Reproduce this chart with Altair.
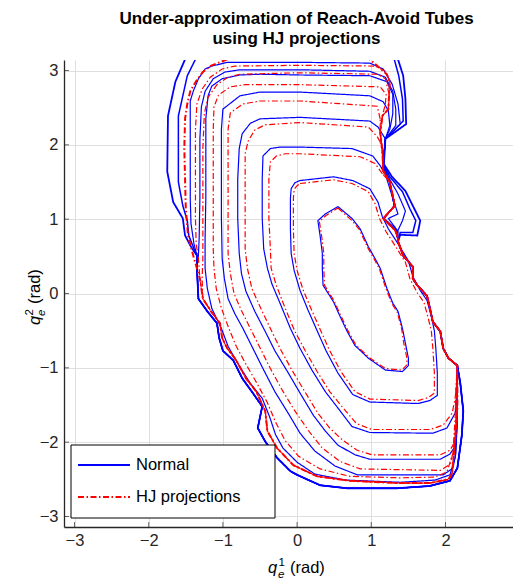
import altair as alt
import pandas as pd

# ---------------- values (q1, q2 in rad) ----------------
TICKS = [-3, -2, -1, 0, 1, 2, 3]
KINDS = ["Normal", "HJ projections"]
COLORS = ["#0000ff", "#ff0000"]
DASHES = [[1, 0], [6, 2.5, 1.5, 2.5]]

# shared outer boundary pieces
LEFT_LOWER_NORMAL = [(-1.35, 0.51), (-1.35, 0.34), (-1.33, -0.07), (-1.21, -0.24), (-1.08, -0.40), (-1.05, -0.60),
                     (-1.00, -0.77), (-0.86, -0.90), (-0.74, -1.14), (-0.61, -1.32), (-0.47, -1.52), (-0.53, -1.81),
                     (-0.43, -1.99), (-0.27, -2.21), (-0.09, -2.39), (0.00, -2.44), (0.31, -2.58), (0.67, -2.62),
                     (1.35, -2.62), (1.79, -2.59), (2.06, -2.52), (2.16, -2.35), (2.22, -1.91), (2.24, -1.58),
                     (2.20, -1.21), (2.16, -0.97)]
LEFT_LOWER_HJ = [(-1.40, 0.51), (-1.31, 0.20), (-1.27, -0.07), (-1.16, -0.24), (-1.04, -0.40), (-1.01, -0.60),
                 (-0.94, -0.74), (-0.82, -0.90), (-0.69, -1.14), (-0.55, -1.32), (-0.43, -1.58), (-0.40, -1.85),
                 (-0.27, -2.08), (-0.05, -2.31), (0.27, -2.46), (0.71, -2.52), (1.35, -2.55), (1.79, -2.55),
                 (2.04, -2.50), (2.09, -2.42), (2.13, -1.95), (2.16, -1.54), (2.16, -0.97)]
RIGHT_BOUNDARY = [(2.16, -0.97), (2.04, -0.87), (1.97, -0.74), (1.93, -0.51), (1.83, -0.38), (1.77, -0.11),
                  (1.75, -0.03), (1.62, 0.11), (1.56, 0.20), (1.56, 0.36), (1.43, 0.51), (1.36, 0.70)]
RIGHT_UPPER_HJ = [(1.36, 0.70), (1.35, 0.78), (1.32, 0.85), (1.16, 1.01), (1.32, 1.18), (1.25, 1.50), (1.16, 1.65),
                  (1.15, 1.91), (1.12, 2.17), (1.15, 2.39), (1.23, 2.48), (1.25, 2.85), (1.21, 2.95), (0.98, 3.15)]
FAN_A = [(1.36, 0.70), (1.39, 0.79), (1.62, 0.78), (1.66, 0.98), (1.58, 1.14), (1.46, 1.38), (1.28, 1.57),
         (1.17, 1.74), (1.19, 2.08)]
FAN_B = [(1.36, 0.70), (1.39, 0.82), (1.56, 0.82), (1.60, 0.98), (1.52, 1.14), (1.42, 1.37), (1.25, 1.57),
         (1.16, 1.74), (1.19, 2.08)]
FAN_C = [(1.36, 0.70), (1.36, 0.85), (1.42, 0.98), (1.46, 1.11), (1.36, 1.34), (1.23, 1.57), (1.16, 1.74),
         (1.19, 2.08)]
FAN_D = [(1.36, 0.70), (1.35, 0.85), (1.23, 1.01), (1.36, 1.07), (1.29, 1.28), (1.21, 1.54), (1.16, 1.74),
         (1.19, 2.08)]
FAN_E = [(1.36, 0.70), (1.34, 0.85), (1.17, 1.01), (1.31, 1.18), (1.25, 1.50), (1.16, 1.70), (1.19, 2.08)]
FAN_E3 = [(1.36, 0.70), (1.34, 0.85), (1.17, 1.01), (1.31, 1.18), (1.25, 1.50), (1.16, 1.65)]

# Normal (blue) level pieces, outer to inner
N10_LEFT = [(-1.51, 3.15), (-1.64, 2.85), (-1.74, 2.39), (-1.75, 1.64), (-1.67, 1.23), (-1.54, 1.01),
            (-1.51, 0.78), (-1.43, 0.63)]
N10_RIGHT = [(1.47, 2.28), (1.46, 2.62), (1.43, 2.93), (1.36, 3.15)]
N9_LEFT = [(-1.37, 3.15), (-1.48, 2.93), (-1.60, 2.39), (-1.60, 1.50), (-1.54, 1.18), (-1.48, 0.98),
           (-1.46, 0.78), (-1.40, 0.63)]
N9_RIGHT = [(1.43, 2.32), (1.42, 2.62), (1.37, 2.93), (1.31, 3.15)]
N8_TOP = [(0.98, 3.10), (0.04, 3.11), (-0.77, 3.11), (-0.94, 3.11), (-1.15, 3.06), (-1.24, 3.02), (-1.33, 2.89),
          (-1.40, 2.72), (-1.44, 2.59), (-1.44, 2.08), (-1.44, 1.68), (-1.44, 1.28), (-1.43, 0.94), (-1.39, 0.67)]
N8_RIGHT = [(1.39, 2.28), (1.36, 2.55), (1.28, 2.82), (1.16, 3.02), (0.98, 3.10)]
N7_TOP = [(0.98, 2.99), (0.04, 3.01), (-0.77, 3.01), (-0.97, 2.98), (-1.13, 2.89), (-1.24, 2.72), (-1.29, 2.51),
          (-1.31, 2.08), (-1.31, 1.28), (-1.32, 0.74), (-1.33, 0.51)]
N7_RIGHT = [(1.33, 2.26), (1.33, 2.48), (1.29, 2.72), (1.19, 2.91), (0.98, 2.99)]
N6_OWN = [(0.98, 2.93), (0.04, 2.94), (-0.50, 2.95), (-0.77, 2.94), (-1.01, 2.89), (-1.15, 2.79), (-1.20, 2.66),
          (-1.23, 2.35), (-1.23, 1.81), (-1.23, 1.28), (-1.24, 0.74), (-1.24, 0.34), (-1.21, 0.07), (-1.15, -0.20),
          (-1.02, -0.47), (-0.93, -0.71), (-0.80, -0.94), (-0.63, -1.21), (-0.47, -1.41), (-0.37, -1.66),
          (-0.29, -1.90), (-0.19, -2.08), (0.00, -2.27), (0.24, -2.43), (0.65, -2.51), (1.39, -2.54),
          (1.86, -2.51), (2.06, -2.44), (2.13, -2.21), (2.16, -1.68)]
N6_RIGHT = [(1.25, 2.21), (1.29, 2.42), (1.29, 2.68), (1.21, 2.85), (0.98, 2.93)]
N5_OWN = [(0.98, 2.66), (0.04, 2.71), (-0.50, 2.71), (-0.77, 2.66), (-1.00, 2.48), (-1.02, 2.21), (-1.02, 1.81),
          (-1.02, 1.01), (-1.01, 0.47), (-0.98, 0.20), (-0.93, -0.07), (-0.84, -0.27), (-0.73, -0.47),
          (-0.61, -0.71), (-0.46, -1.01), (-0.30, -1.32), (-0.12, -1.61), (0.04, -1.88), (0.24, -2.12),
          (0.51, -2.32), (0.81, -2.44), (1.97, -2.44), (2.10, -2.35), (2.14, -2.15), (2.16, -1.68)]
N5_RIGHT = [(1.25, 2.26), (1.23, 2.46), (1.16, 2.58), (0.98, 2.66)]
N4_OWN = [(0.98, 2.32), (0.04, 2.37), (-0.50, 2.35), (-0.63, 2.29), (-0.74, 2.15), (-0.78, 1.95), (-0.80, 1.54),
          (-0.80, 1.01), (-0.78, 0.54), (-0.75, 0.27), (-0.69, 0.03), (-0.57, -0.24), (-0.43, -0.51),
          (-0.30, -0.77), (-0.13, -1.05), (0.04, -1.34), (0.22, -1.64), (0.38, -1.85), (0.55, -2.04),
          (0.78, -2.17), (0.98, -2.23), (1.93, -2.23), (2.06, -2.16), (2.14, -2.04), (2.16, -1.68)]
N4_RIGHT = [(1.09, 2.24), (0.98, 2.32)]
N3_OWN = [(1.16, 1.65), (1.12, 1.72), (1.02, 1.85), (0.74, 1.95), (0.04, 1.97), (-0.23, 1.97), (-0.36, 1.95),
          (-0.46, 1.85), (-0.47, 1.54), (-0.47, 1.01), (-0.45, 0.60), (-0.40, 0.34), (-0.34, 0.13), (-0.23, -0.13),
          (-0.09, -0.47), (0.04, -0.74), (0.20, -1.03), (0.38, -1.32), (0.55, -1.54), (0.74, -1.79), (0.98, -1.87),
          (1.83, -1.88), (2.02, -1.81), (2.13, -1.61), (2.16, -1.34)]
N2 = [(0.04, 1.52), (0.49, 1.57), (0.75, 1.52), (0.98, 1.41), (1.09, 1.23), (1.15, 1.03), (1.23, 0.87),
      (1.36, 0.67), (1.50, 0.44), (1.56, 0.23), (1.66, 0.04), (1.75, -0.09), (1.81, -0.31), (1.85, -0.50),
      (1.87, -0.74), (1.89, -1.07), (1.89, -1.37), (1.79, -1.44), (1.63, -1.48), (0.98, -1.46), (0.75, -1.36),
      (0.55, -1.07), (0.39, -0.77), (0.27, -0.50), (0.15, -0.23), (0.04, 0.04), (-0.04, 0.31), (-0.08, 0.54),
      (-0.09, 0.87), (-0.09, 1.28), (-0.08, 1.41), (-0.03, 1.49)]
N1 = [(0.55, 1.17), (0.74, 1.01), (0.85, 0.87), (0.96, 0.63), (1.05, 0.47), (1.12, 0.34), (1.21, 0.07),
      (1.29, -0.13), (1.36, -0.24), (1.42, -0.47), (1.46, -0.67), (1.50, -0.87), (1.50, -0.97), (1.42, -1.05),
      (1.19, -1.03), (0.96, -0.87), (0.78, -0.70), (0.67, -0.50), (0.58, -0.31), (0.49, -0.11), (0.35, 0.11),
      (0.34, 0.34), (0.34, 0.54), (0.31, 0.78), (0.28, 0.98), (0.38, 1.07)]

# HJ projection (red) level pieces, outer to inner
H_OUT_LEFT = [(-0.94, 3.15), (-1.15, 3.07), (-1.27, 2.98), (-1.36, 2.86), (-1.44, 2.72), (-1.48, 2.55),
              (-1.51, 2.35), (-1.52, 1.95), (-1.51, 1.54), (-1.50, 1.14), (-1.47, 0.78)]
H8_TOP = [(1.19, 2.99), (1.05, 3.06), (0.04, 3.07), (-0.84, 3.06), (-1.01, 3.02), (-1.17, 2.91), (-1.28, 2.75),
          (-1.35, 2.55), (-1.37, 2.21), (-1.37, 1.54), (-1.37, 1.01), (-1.36, 0.67), (-1.33, 0.47), (-1.31, 0.20)]
H7_TOP = [(1.24, 2.68), (1.19, 2.89), (1.09, 2.95), (0.04, 2.97), (-0.77, 2.95), (-0.93, 2.91), (-1.08, 2.81),
          (-1.20, 2.64), (-1.25, 2.42), (-1.27, 1.95), (-1.27, 1.28), (-1.27, 0.74), (-1.27, 0.47), (-1.28, 0.20)]
H6_OWN = [(1.19, 2.55), (1.20, 2.68), (1.12, 2.78), (0.04, 2.81), (-0.70, 2.81), (-0.90, 2.78), (-1.06, 2.67),
          (-1.12, 2.51), (-1.13, 2.21), (-1.13, 1.28), (-1.13, 0.60), (-1.12, 0.34), (-1.09, 0.07), (-1.02, -0.20),
          (-0.92, -0.47), (-0.82, -0.71), (-0.69, -0.95), (-0.54, -1.21), (-0.40, -1.47), (-0.29, -1.73),
          (-0.16, -1.98), (0.02, -2.19), (0.31, -2.36), (0.71, -2.46), (1.39, -2.48), (1.86, -2.47),
          (2.02, -2.40), (2.10, -2.15), (2.13, -1.68), (2.14, -1.28)]
H5_OWN = [(1.12, 2.35), (1.08, 2.52), (0.04, 2.59), (-0.50, 2.59), (-0.73, 2.55), (-0.90, 2.43), (-0.93, 2.21),
          (-0.93, 1.28), (-0.93, 0.54), (-0.90, 0.27), (-0.85, 0.00), (-0.75, -0.23), (-0.63, -0.47),
          (-0.51, -0.71), (-0.36, -1.01), (-0.20, -1.30), (-0.03, -1.58), (0.15, -1.84), (0.34, -2.08),
          (0.58, -2.26), (0.85, -2.36), (1.93, -2.38), (2.06, -2.30), (2.12, -2.08), (2.14, -1.68)]
H4_OWN = [(1.12, 2.04), (1.08, 2.11), (0.96, 2.24), (0.04, 2.30), (-0.43, 2.27), (-0.57, 2.20), (-0.66, 2.05),
          (-0.70, 1.88), (-0.70, 1.28), (-0.70, 0.60), (-0.67, 0.34), (-0.61, 0.07), (-0.49, -0.20),
          (-0.36, -0.47), (-0.23, -0.74), (-0.07, -1.03), (0.11, -1.33), (0.28, -1.61), (0.44, -1.81),
          (0.61, -1.97), (0.81, -2.11), (1.01, -2.17), (1.93, -2.17), (2.06, -2.11), (2.13, -1.99), (2.16, -1.68)]
H3_OWN = [(1.15, 1.61), (1.05, 1.75), (0.85, 1.84), (0.04, 1.88), (-0.16, 1.88), (-0.28, 1.85), (-0.36, 1.77),
          (-0.38, 1.54), (-0.38, 1.01), (-0.36, 0.60), (-0.35, 0.34), (-0.28, 0.11), (-0.16, -0.20),
          (-0.03, -0.51), (0.11, -0.77), (0.27, -1.05), (0.44, -1.32), (0.62, -1.54), (0.80, -1.75),
          (1.01, -1.83), (1.79, -1.83), (1.97, -1.77), (2.09, -1.61), (2.13, -1.41), (2.16, -1.10)]
H2 = [(0.04, 1.48), (0.49, 1.53), (0.74, 1.48), (0.96, 1.37), (1.05, 1.21), (1.11, 1.01), (1.20, 0.83),
      (1.33, 0.63), (1.46, 0.42), (1.52, 0.20), (1.62, 0.01), (1.71, -0.12), (1.77, -0.34), (1.81, -0.51),
      (1.83, -0.74), (1.85, -1.07), (1.85, -1.34), (1.77, -1.40), (1.63, -1.44), (0.98, -1.42), (0.78, -1.32),
      (0.59, -1.05), (0.43, -0.75), (0.31, -0.48), (0.19, -0.21), (0.08, 0.05), (0.00, 0.31), (-0.04, 0.54),
      (-0.05, 0.87), (-0.05, 1.28), (-0.04, 1.40), (0.00, 1.45)]
H1 = [(0.55, 1.15), (0.73, 0.99), (0.84, 0.86), (0.95, 0.62), (1.04, 0.46), (1.11, 0.33), (1.20, 0.06),
      (1.28, -0.14), (1.35, -0.25), (1.41, -0.48), (1.44, -0.68), (1.48, -0.87), (1.48, -0.96), (1.41, -1.03),
      (1.19, -1.01), (0.97, -0.86), (0.79, -0.69), (0.68, -0.49), (0.59, -0.30), (0.50, -0.10), (0.37, 0.11),
      (0.36, 0.34), (0.36, 0.54), (0.33, 0.78), (0.30, 0.97), (0.39, 1.05)]

# line widths of the curves (outermost ones are drawn heavier)
WIDTHS = {"N10": 1.8, "N9": 1.5, "H10": 2.0}

# ---------------- assemble the level curves ----------------
LLN, LLH, RB, RUH = LEFT_LOWER_NORMAL, LEFT_LOWER_HJ, RIGHT_BOUNDARY, RIGHT_UPPER_HJ


def closed(pts):
    return list(pts) + [pts[0]]


normal_curves = {
    "N10": N10_LEFT + LLN + RB[1:] + FAN_A[1:] + N10_RIGHT,
    "N9": N9_LEFT + LLN + RB[1:] + FAN_B[1:] + N9_RIGHT,
    "N8": N8_TOP + LLN + RB[1:] + FAN_C[1:] + N8_RIGHT,
    "N7": N7_TOP + LLN[1:] + RB[1:] + FAN_D[1:] + N7_RIGHT,
    "N6": N6_OWN + RB + FAN_E[1:] + N6_RIGHT,
    "N5": N5_OWN + RB + FAN_E[1:] + N5_RIGHT,
    "N4": N4_OWN + RB + FAN_E[1:] + N4_RIGHT,
    "N3": N3_OWN + RB + FAN_E3[1:],
    "N2": closed(N2),
    "N1": closed(N1),
}
hj_curves = {
    "H10": H_OUT_LEFT + LLH + RB[1:] + RUH[1:],
    "H8": closed(H8_TOP + LLH[2:] + RB[1:] + RUH[1:12]),
    "H7": closed(H7_TOP + LLH[2:] + RB[1:] + RUH[1:11]),
    "H6": closed(H6_OWN + RB + RUH[1:10]),
    "H5": closed(H5_OWN + RB + RUH[1:9]),
    "H4": closed(H4_OWN + RB + RUH[1:8]),
    "H3": closed(H3_OWN + RB + RUH[1:6]),
    "H2": closed(H2),
    "H1": closed(H1),
}

rows = []
for kind, curves in (("Normal", normal_curves), ("HJ projections", hj_curves)):
    for name, pts in curves.items():
        for i, (a, b) in enumerate(pts):
            rows.append({"curve": name, "kind": kind, "i": i, "q1": a, "q2": b, "w": WIDTHS.get(name, 1.2)})
df = pd.DataFrame(rows)

PI = 3.14159
X_MAX = 2.91   # the right part of the panel lies outside the picture
FONT = "Liberation Sans, Arial, Helvetica, sans-serif"
xscale = alt.Scale(domain=[-PI, X_MAX], nice=False, zero=False)
yscale = alt.Scale(domain=[-PI, PI], nice=False, zero=False)
xaxis = alt.Axis(values=TICKS, title=None, format="d", labelPadding=5, labelFlush=False, labelOverlap=False)
yaxis = alt.Axis(values=TICKS, title=None, format="d", labelPadding=6, labelFlush=False, labelOverlap=False)

base = alt.Chart(df).mark_line(clip=True).encode(
    x=alt.X("q1:Q", scale=xscale, axis=xaxis),
    y=alt.Y("q2:Q", scale=yscale, axis=yaxis),
    detail="curve:N",
    order="i:Q",
    strokeWidth=alt.StrokeWidth("w:Q", scale=None, legend=None),
    color=alt.Color("kind:N", scale=alt.Scale(domain=KINDS, range=COLORS), legend=None),
    strokeDash=alt.StrokeDash("kind:N", scale=alt.Scale(domain=KINDS, range=DASHES), legend=None),
)
blue = base.transform_filter(alt.datum.kind == "Normal")
red = base.transform_filter(alt.datum.kind == "HJ projections")

ticks_df = pd.DataFrame({"q1": TICKS, "q2": TICKS})
xticks = alt.Chart(ticks_df).mark_tick(size=5, thickness=1, color="#262626", clip=True).encode(
    x=alt.X("q1:Q", scale=xscale, axis=xaxis), y=alt.value(464.5))
yticks = alt.Chart(ticks_df).mark_tick(size=5, thickness=1, color="#262626").encode(
    y=alt.Y("q2:Q", scale=yscale, axis=yaxis), x=alt.value(2.5))

one = pd.DataFrame({"a": [0]})


def txt(s, x, y, size=16.5, italic=False, angle=0, baseline="alphabetic", color="black"):
    kw = dict(text=s, font=FONT, fontSize=size, align="left", baseline=baseline, color=color)
    if italic:
        kw["fontStyle"] = "italic"
    if angle:
        kw["angle"] = angle
    return alt.Chart(one).mark_text(**kw).encode(x=alt.value(x), y=alt.value(y))


titles = [
    txt("q", 204, 513, italic=True), txt("1", 214.5, 506, size=11.5), txt("e", 214, 518, size=11.5, italic=True),
    txt("(rad)", 226, 513),
    txt("q", -24, 265, italic=True, angle=270), txt("2", -31, 255.5, size=11.5, angle=270),
    txt("e", -19, 256, size=11.5, italic=True, angle=270), txt("(rad)", -24, 244, angle=270),
]

# legend box drawn in the lower-left corner of the panel
leg_box = alt.Chart(one).mark_rect(fill="white", stroke="black", strokeWidth=1).encode(
    x=alt.value(7), x2=alt.value(211), y=alt.value(385), y2=alt.value(458))
leg_blue = alt.Chart(one).mark_rule(color=COLORS[0], strokeWidth=2).encode(
    x=alt.value(14), x2=alt.value(66), y=alt.value(405))
leg_red = alt.Chart(one).mark_rule(color=COLORS[1], strokeWidth=2, strokeDash=DASHES[1]).encode(
    x=alt.value(14), x2=alt.value(66), y=alt.value(437))
leg_t1 = txt(KINDS[0], 72, 405, baseline="middle")
leg_t2 = txt(KINDS[1], 72, 437, baseline="middle")

chart = alt.layer(blue, red, xticks, yticks, *titles, leg_box, leg_blue, leg_red, leg_t1, leg_t2).properties(
    width=449, height=467,
    title=alt.Title(["Under-approximation of Reach-Avoid Tubes", "using HJ projections"],
                    fontSize=17, fontWeight="bold", font=FONT, anchor="middle", offset=12, dx=8,
                    lineHeight=20, color="black"),
    autosize=alt.AutoSizeParams(type="none"),
    padding={"left": 56, "top": 52, "right": 0, "bottom": 60},
).configure_view(stroke=None).configure_axis(
    grid=True, gridColor="#dfdfdf", gridWidth=1, domainColor="#262626", domainWidth=1.3,
    ticks=False, tickSize=0, labelFont=FONT, labelFontSize=16.5, labelColor="#262626",
)

chart.save("out.html", embed_options={"renderer": "svg", "actions": False})
